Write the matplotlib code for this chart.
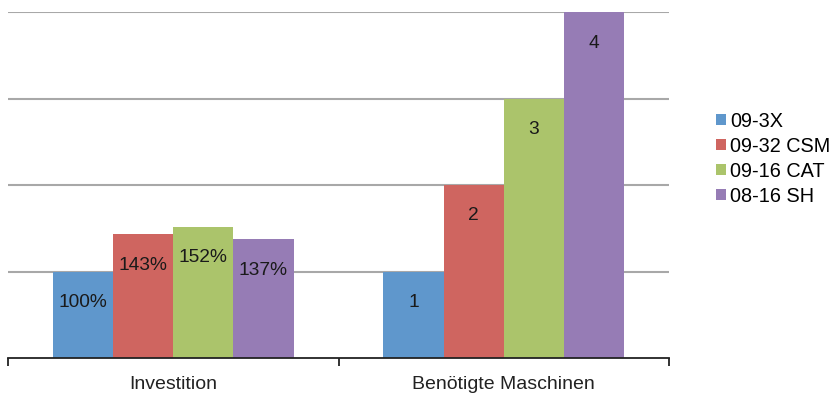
import matplotlib
matplotlib.use("Agg")
import matplotlib.pyplot as plt
import numpy as np

plt.rcParams['font.family'] = ['Liberation Sans', 'DejaVu Sans']

categories = ["Investition", "Benötigte Maschinen"]
series = ["09-3X", "09-32 CSM", "09-16 CAT", "08-16 SH"]
# values per series: [Investition (relative to 09-3X), required machines]
investition_pct = [100, 143, 152, 137]
maschinen = [1, 2, 3, 4]
colors = ["#5f97cc", "#cf6560", "#abc46b", "#967cb5"]

fig = plt.figure(figsize=(8.4, 3.97), dpi=100)
ax = fig.add_axes([8 / 840, 39 / 397, 661 / 840, 346 / 397])

centers = np.array([0.5, 1.5])
width = 0.182
offsets = (np.arange(len(series)) - 1.5) * width

for i, name in enumerate(series):
    vals = [investition_pct[i] / 100, maschinen[i]]
    labels = [f"{investition_pct[i]}%", f"{maschinen[i]}"]
    bars = ax.bar(centers + offsets[i], vals, width, color=colors[i],
                  label=name, zorder=2, linewidth=0)
    for b, v, lab in zip(bars, vals, labels):
        ax.annotate(lab, (b.get_x() + b.get_width() / 2, v),
                    xytext=(0, -31), textcoords="offset pixels",
                    ha="center", va="center", fontsize=13.8,
                    color="#1a1a1a", zorder=3)

ax.set_xlim(0, 2)
ax.set_ylim(0, 4)
for y in [1, 2, 3, 4]:
    ax.axhline(y, color="#a8a8a8", linewidth=1.5, zorder=1)

for s in ["left", "right", "top"]:
    ax.spines[s].set_visible(False)
ax.spines["bottom"].set_color("#222222")
ax.spines["bottom"].set_linewidth(1.3)
ax.spines["bottom"].set_zorder(4)

ax.set_yticks([])
ax.set_xticks([0, 1, 2])
ax.set_xticklabels([])
ax.tick_params(axis="x", which="major", direction="out", length=6,
               width=1.3, color="#222222")
ax.set_xticks(centers, minor=True)
ax.set_xticklabels(categories, minor=True, fontsize=14, color="#222222")
ax.tick_params(axis="x", which="minor", length=0, pad=13)

handles, labs = ax.get_legend_handles_labels()
fig.legend(handles, labs, loc="upper left", bbox_to_anchor=(716 / 840, 1 - 112 / 397),
           frameon=False, fontsize=14.3, handlelength=0.48, handleheight=0.48,
           handletextpad=0.25, labelspacing=0.3, borderaxespad=0, borderpad=0)

fig.savefig("out.png", dpi=100)
